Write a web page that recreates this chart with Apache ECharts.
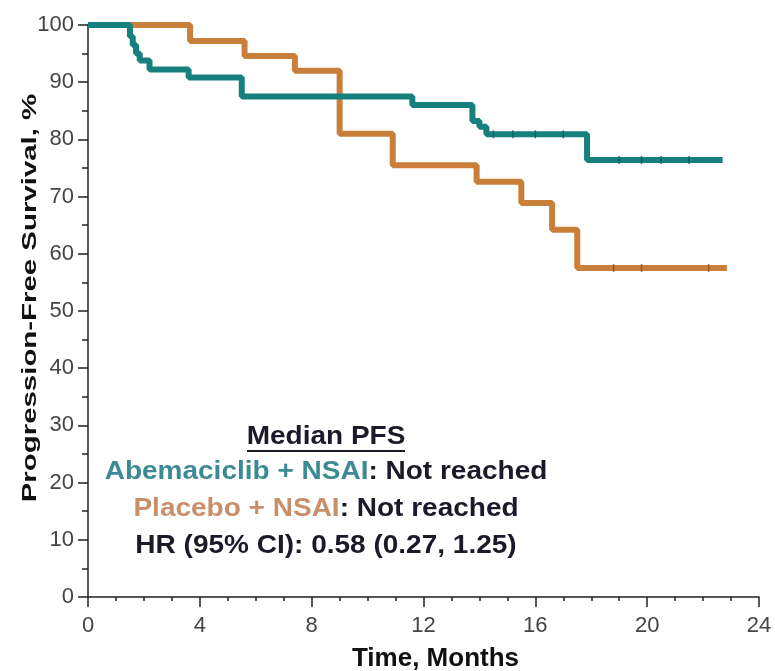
<!DOCTYPE html>
<html>
<head>
<meta charset="utf-8">
<script src="https://cdn.jsdelivr.net/npm/echarts@6/dist/echarts.min.js"></script>
<style>html,body{margin:0;padding:0;background:#fff;}#c{width:775px;height:671px;}</style>
</head>
<body>
<div id="c"></div>
<script>
// Kaplan-Meier step data [month, survival %]
const abemaTimes = [0, 1.5, 1.6, 1.72, 1.85, 2.2, 3.6, 5.5, 11.6, 13.75, 14.0, 14.25, 17.85, 22.7];
const abemaSurv  = [100, 98, 96.5, 95, 93.8, 92.2, 90.8, 87.5, 86.0, 83.2, 82.2, 80.9, 76.4, 76.4];
const placTimes  = [0, 3.65, 5.6, 7.4, 9.0, 10.9, 13.9, 15.5, 16.6, 17.5, 22.85];
const placSurv   = [100, 97.2, 94.6, 92.0, 81.0, 75.5, 72.6, 68.9, 64.2, 57.5, 57.5];
// censoring marks
const abemaCensorT = [14.5, 15.2, 16.0, 17.0, 19.0, 19.8, 20.5, 21.5];
const abemaCensorS = [80.9, 80.9, 80.9, 80.9, 76.4, 76.4, 76.4, 76.4];
const placCensorT  = [18.8, 19.8, 22.2];
const placCensorS  = [57.5, 57.5, 57.5];

const xTicks = [0, 4, 8, 12, 16, 20, 24];
const yTicks = [0, 10, 20, 30, 40, 50, 60, 70, 80, 90, 100];

const yTitle = 'Progression-Free Survival, %';
const xTitle = 'Time, Months';

const tealColor = '#16807e';
const orangeColor = '#c97f3a';

const zip = (a, b) => a.map((v, i) => [v, b[i]]);

const chart = echarts.init(document.getElementById('c'), null, {renderer: 'canvas'});
const FONT = "'Liberation Sans', Arial, sans-serif";
const TXT = '#1a1a2a';
const annot = (y, text, rich) => ({
  type: 'text', x: 326, y: y, scaleX: 1.12,
  style: Object.assign({text: text, align: 'center', verticalAlign: 'middle',
    fontFamily: FONT, fontWeight: 'bold', fontSize: 25, fill: TXT}, rich ? {rich: rich} : {})
});
chart.setOption({
  animation: false,
  backgroundColor: '#fff',
  grid: {left: 88, right: 16, top: 25, bottom: 74, containLabel: false, outerBoundsMode: 'none'},
  xAxis: {
    type: 'value', min: 0, max: 24, interval: 4,
    name: xTitle, nameLocation: 'middle', nameGap: 49,
    nameTextStyle: {fontFamily: FONT, fontWeight: 'bold', fontSize: 26, color: '#111', padding: [0, 0, 0, 24]},
    axisLine: {show: true, lineStyle: {color: '#222', width: 1.5}},
    axisTick: {show: true, length: 10, lineStyle: {color: '#222', width: 1.5}},
    minorTick: {show: true, splitNumber: 4, length: 4, lineStyle: {color: '#222', width: 1.5}},
    axisLabel: {fontFamily: FONT, fontSize: 22, color: '#444', margin: 18},
    splitLine: {show: false}
  },
  yAxis: {
    type: 'value', min: 0, max: 100, interval: 10,
    axisLine: {show: true, lineStyle: {color: '#222', width: 1.5}},
    axisTick: {show: true, length: 10, lineStyle: {color: '#222', width: 1.5}},
    minorTick: {show: true, splitNumber: 2, length: 6, lineStyle: {color: '#222', width: 1.5}},
    axisLabel: {fontFamily: FONT, fontSize: 22, color: '#444', margin: 14},
    splitLine: {show: false}
  },
  series: [
    {type: 'line', step: 'end', data: zip(abemaTimes, abemaSurv), symbol: 'none',
     lineStyle: {color: tealColor, width: 6}, z: 3},
    {type: 'line', step: 'end', data: zip(placTimes, placSurv), symbol: 'none',
     lineStyle: {color: orangeColor, width: 6}, z: 2},
    {type: 'scatter', data: zip(abemaCensorT, abemaCensorS), symbol: 'rect', symbolSize: [1.5, 8],
     itemStyle: {color: '#0d5a58'}, z: 4},
    {type: 'scatter', data: zip(placCensorT, placCensorS), symbol: 'rect', symbolSize: [1.5, 8],
     itemStyle: {color: '#8a5020'}, z: 4}
  ],
  graphic: [
    {type: 'text', x: 30, y: 298, rotation: Math.PI / 2, scaleX: 1.4,
     style: {text: yTitle, fontFamily: FONT, fontWeight: 'bold', fontSize: 21, fill: '#111',
             align: 'center', verticalAlign: 'middle'}},
    annot(437, 'Median PFS'),
    {type: 'line', shape: {x1: 247, y1: 451, x2: 405, y2: 451}, style: {stroke: TXT, lineWidth: 1.8}},
    annot(472, '{a|Abemaciclib + NSAI}{b|: Not reached}', {
      a: {fontFamily: FONT, fontWeight: 'bold', fontSize: 25, fill: '#3b8a94'},
      b: {fontFamily: FONT, fontWeight: 'bold', fontSize: 25, fill: TXT}}),
    annot(509, '{a|Placebo + NSAI}{b|: Not reached}', {
      a: {fontFamily: FONT, fontWeight: 'bold', fontSize: 25, fill: '#c98e6a'},
      b: {fontFamily: FONT, fontWeight: 'bold', fontSize: 25, fill: TXT}}),
    annot(546, 'HR (95% CI): 0.58 (0.27, 1.25)')
  ]
});
</script>
</body>
</html>
